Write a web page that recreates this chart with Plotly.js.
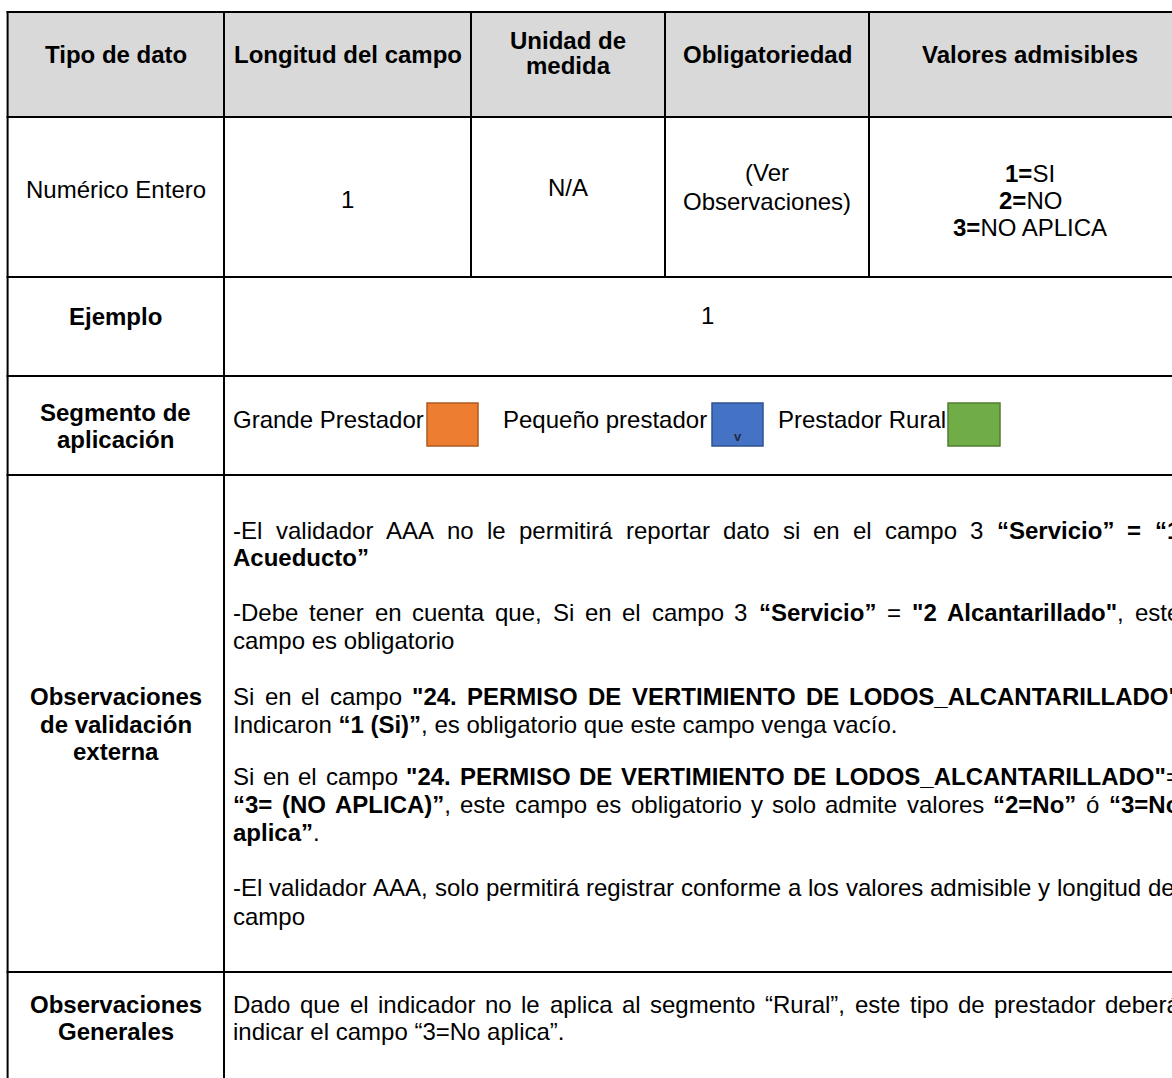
<!DOCTYPE html>
<html><head><meta charset="utf-8">
<script src="https://cdn.plot.ly/plotly-3.0.1.min.js"></script>
<style>html,body{margin:0;padding:0;background:#fff;overflow:hidden}</style>
</head><body><div id="chart" style="width:1172px;height:1078px"></div>
<script>
// ---------- DATA (texts) ----------
const headerLabels = [["Tipo de dato"], ["Longitud del campo"], ["Unidad de", "medida"], ["Obligatoriedad"], ["Valores admisibles"]];
const firstRowValues = [["Numérico Entero"], ["1"], ["N/A"], ["(Ver", "Observaciones)"], ["<b>1=</b>SI", "<b>2=</b>NO", "<b>3=</b>NO APLICA"]];
const rowLabels = [["Ejemplo"], ["Segmento de", "aplicación"], ["Observaciones", "de validación", "externa"], ["Observaciones", "Generales"]];
const exampleValue = "1";
const segmentNames = ["Grande Prestador", "Pequeño prestador", "Prestador Rural"];
// paragraphs -> lines -> fragments [text, bold]; first element of each line: justified flag
const externalObservations = [
  [[1, ["-El validador AAA no le permitirá reportar dato si en el campo 3 ", 0], ["“Servicio” = “1", 1]],
   [0, ["Acueducto”", 1]]],
  [[1, ["-Debe tener en cuenta que, Si en el campo 3 ", 0], ["“Servicio”", 1], [" = ", 0], ["\"2 Alcantarillado\"", 1], [", este", 0]],
   [0, ["campo es obligatorio", 0]]],
  [[1, ["Si en el campo ", 0], ["\"24. PERMISO DE VERTIMIENTO DE LODOS_ALCANTARILLADO\"", 1]],
   [0, ["Indicaron ", 0], ["“1 (Si)”", 1], [", es obligatorio que este campo venga vacío.", 0]]],
  [[1, ["Si en el campo ", 0], ["\"24. PERMISO DE VERTIMIENTO DE LODOS_ALCANTARILLADO\"", 1], ["=", 0]],
   [1, ["“3= (NO APLICA)”", 1], [", este campo es obligatorio y solo admite valores ", 0], ["“2=No”", 1], [" ó ", 0], ["“3=No", 1]],
   [0, ["aplica”", 1], [".", 0]]],
  [[1, ["-El validador AAA, solo permitirá registrar conforme a los valores admisible y longitud del", 0]],
   [0, ["campo", 0]]]
];
const generalObservations = [
  [[1, ["Dado que el indicador no le aplica al segmento “Rural”, este tipo de prestador deberá", 0]],
   [0, ["indicar el campo “3=No aplica”.", 0]]]
];

// ---------- LAYOUT (positions / styles) ----------
const W = 1172, H = 1078;
const colEdges = [7.6, 224, 471, 665, 869, 1191];
const rowEdges = [12, 117, 277, 376, 475, 972, 1078];
const headerLineY = [[55], [55], [41, 66], [55], [55]];
const firstRowLineY = [[190], [200], [188], [173, 202], [174, 201, 228]];
const rowLabelLineY = [[317], [413, 440], [697, 725, 752], [1005, 1032]];
const exampleY = 316;
const segTextX = [233, 503, 778];
const segTextY = 420;
const segBoxX = [[427, 478], [712, 763], [948, 1000]];
const segBoxY = [403, 446];
const segFill = ["#ED7D31", "#4472C4", "#70AD47"];
const segLine = ["#AE5A21", "#2F528F", "#507E32"];
const extLineY = [[531, 558], [613, 641], [697, 725], [777, 805, 833], [888, 917]];
const genLineY = [[1005, 1032]];
const textLeft = 233, textRight = 1180;
const FS = 24;
const FAMILY = '"Liberation Sans", Arial, sans-serif';
const YOFF = -1;
const headerFill = "#D9D9D9";

const ctx = document.createElement('canvas').getContext('2d');
function measure(t, bold) { ctx.font = (bold ? 'bold ' : '') + FS + 'px "Liberation Sans"'; return ctx.measureText(t).width; }

const annotations = [];
function addText(html, x, y, xanchor) {
  annotations.push({
    text: html, x: x, y: y + YOFF, xref: 'x', yref: 'y', showarrow: false,
    xanchor: xanchor || 'center', yanchor: 'middle', align: 'left',
    borderpad: 0, borderwidth: 0,
    font: { family: FAMILY, size: FS, color: '#000' }
  });
}
function fragHtml(frags) { return frags.map(([t, b]) => b ? '<b>' + t + '</b>' : t).join(''); }
function splitWords(frags) {
  const words = []; let cur = [];
  frags.forEach(([t, b]) => {
    t.split(/( +)/).forEach(p => {
      if (p === '') return;
      if (/^ +$/.test(p)) { if (cur.length) { words.push(cur); cur = []; } }
      else cur.push([p, b]);
    });
  });
  if (cur.length) words.push(cur);
  return words;
}
function addParagraphLine(line, y) {
  const justify = line[0];
  const frags = line.slice(1);
  if (!justify) { addText(fragHtml(frags), textLeft, y, 'left'); return; }
  const words = splitWords(frags);
  const widths = words.map(w => w.reduce((s, [t, b]) => s + measure(t, b), 0));
  const total = widths.reduce((a, b) => a + b, 0);
  const gap = (textRight - textLeft - total) / (words.length - 1);
  let x = textLeft;
  words.forEach((w, i) => {
    if (x < W - 1) addText(fragHtml(w), x, y, 'left');
    x += widths[i] + gap;
  });
}

// header + first row
const colCenters = colEdges.slice(0, -1).map((e, i) => (e + colEdges[i + 1]) / 2);
headerLabels.forEach((lines, c) => lines.forEach((t, k) => addText('<b>' + t + '</b>', colCenters[c], headerLineY[c][k])));
firstRowValues.forEach((lines, c) => lines.forEach((t, k) => addText(t, colCenters[c], firstRowLineY[c][k])));
// row labels (first column)
rowLabels.forEach((lines, r) => lines.forEach((t, k) => addText('<b>' + t + '</b>', colCenters[0], rowLabelLineY[r][k])));
// example value (merged cell)
addText(exampleValue, (colEdges[1] + colEdges[5]) / 2, exampleY);
// segments
segmentNames.forEach((t, i) => addText(t, segTextX[i], segTextY, 'left'));
annotations.push({ text: '<b>v</b>', x: (segBoxX[1][0] + segBoxX[1][1]) / 2, y: segBoxY[1] - 10, xref: 'x', yref: 'y', showarrow: false,
  xanchor: 'center', yanchor: 'middle', borderpad: 0, borderwidth: 0, font: { family: FAMILY, size: 13, color: '#1F2A44' } });
// observations
externalObservations.forEach((para, p) => para.forEach((line, k) => addParagraphLine(line, extLineY[p][k])));
generalObservations.forEach((para, p) => para.forEach((line, k) => addParagraphLine(line, genLineY[p][k])));

// shapes
const shapes = [];
shapes.push({ type: 'rect', xref: 'x', yref: 'y', x0: colEdges[0], x1: W, y0: rowEdges[0], y1: rowEdges[1], fillcolor: headerFill, line: { width: 0 }, layer: 'below' });
const LW = 2;
rowEdges.slice(0, -1).forEach(y => shapes.push({ type: 'line', xref: 'x', yref: 'y', x0: colEdges[0] - 1, x1: W + 2, y0: y, y1: y, line: { color: '#000', width: LW } }));
[colEdges[0], colEdges[1]].forEach(x => shapes.push({ type: 'line', xref: 'x', yref: 'y', x0: x, x1: x, y0: rowEdges[0] - 1, y1: H + 2, line: { color: '#000', width: LW } }));
colEdges.slice(2, 5).forEach(x => shapes.push({ type: 'line', xref: 'x', yref: 'y', x0: x, x1: x, y0: rowEdges[0] - 1, y1: rowEdges[2] + 1, line: { color: '#000', width: LW } }));
segBoxX.forEach((bx, i) => shapes.push({ type: 'rect', xref: 'x', yref: 'y', x0: bx[0], x1: bx[1], y0: segBoxY[0], y1: segBoxY[1], fillcolor: segFill[i], line: { color: segLine[i], width: 1.5 }, layer: 'above' }));

const data = [{ type: 'scatter', x: [0, W], y: [0, H], mode: 'markers', marker: { opacity: 0 }, hoverinfo: 'skip', showlegend: false }];
const layout = {
  width: W, height: H, margin: { l: 0, r: 0, t: 0, b: 0, pad: 0 },
  paper_bgcolor: '#fff', plot_bgcolor: '#fff', showlegend: false,
  xaxis: { range: [0, W], visible: false, fixedrange: true },
  yaxis: { range: [H, 0], visible: false, fixedrange: true },
  shapes: shapes, annotations: annotations
};
Plotly.newPlot('chart', data, layout, { staticPlot: true, displayModeBar: false });
</script></body></html>
